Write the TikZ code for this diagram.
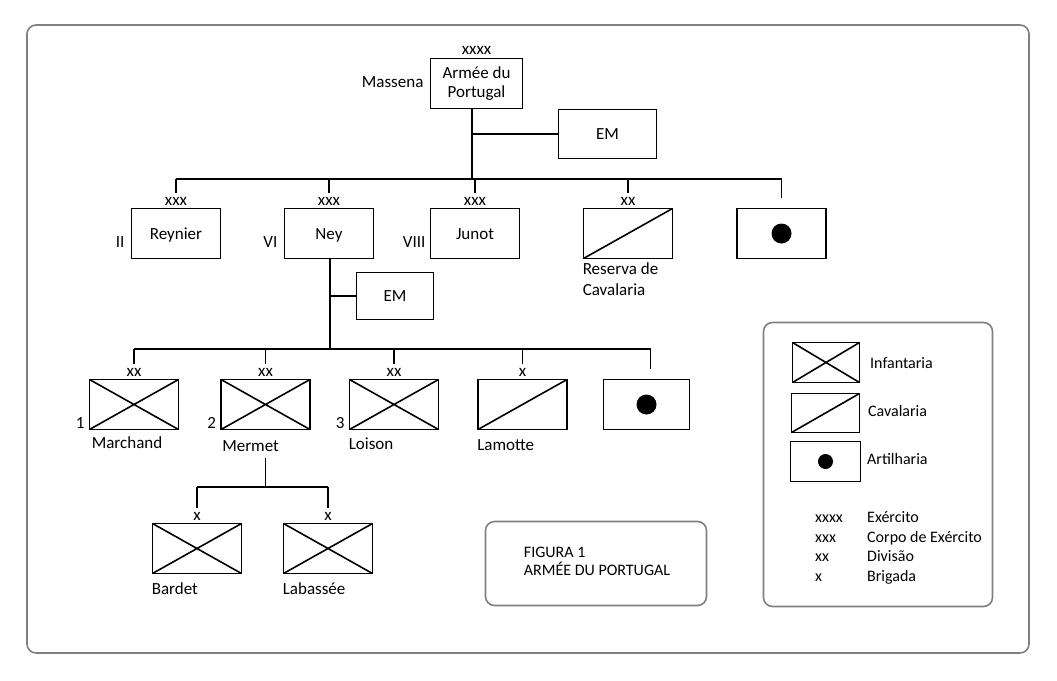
\documentclass[tikz,border=0pt]{standalone}
\usepackage{fontspec}
\setmainfont{Carlito}
\definecolor{framegray}{RGB}{128,128,128}
\tikzset{
  x=1pt, y=-1pt,
  plainbox/.style={draw, line width=1.8pt, inner sep=0pt, minimum width=89pt, minimum height=50pt},
  unitbox/.style={plainbox, text height=11pt, text depth=0pt},
  infbox/.style={unitbox, path picture={
      \draw[line width=1.6pt] (path picture bounding box.south west) -- (path picture bounding box.north east)
                              (path picture bounding box.north west) -- (path picture bounding box.south east);}},
  cavbox/.style={unitbox, path picture={
      \draw[line width=1.6pt] (path picture bounding box.south west) -- (path picture bounding box.north east);}},
  artbox/.style={unitbox, path picture={
      \fill (path picture bounding box.center) circle[radius=#1];}},
  artbox/.default=10pt,
  conn/.style={line width=1.8pt},
  echelon/.style={anchor=base, inner sep=0pt},
  sidelabel/.style={anchor=base east, inner sep=0pt},
  undername/.style={anchor=base west, inner sep=0pt},
  frame/.style={draw=framegray, line width=1.6pt, rounded corners=9pt},
  smalltext/.style={font=\fontsize{16}{18}\selectfont},
}
\begin{document}
\begin{tikzpicture}[font=\fontsize{17}{21}\selectfont]
\useasboundingbox (0,0) rectangle (1057,680);
\draw[frame] (27,25) rectangle (1029,653);

% --- Army
\node[plainbox, minimum width=92pt, align=center, font=\fontsize{17}{19}\selectfont] (army) at (476.5,83.5) {Armée du\\Portugal};
\node[echelon] (armyx) at ([yshift=3pt]army.north) {xxxx};
\node[sidelabel] (massena) at ([xshift=-6pt,yshift=-4pt]army.west) {Massena};
\node[unitbox, minimum width=98pt, minimum height=49pt] (em1) at (607.5,134) {EM};
\coordinate (trunk1) at (472,179);
\coordinate (emj1) at (472,134);
\draw[conn] (army.south -| trunk1) -- (trunk1);
\draw[conn] (emj1) -- (em1.west);

% --- Corps level
\node[unitbox] (reynier) at (176,233.5) {Reynier};
\node[unitbox] (ney) at (329,233.5) {Ney};
\node[unitbox] (junot) at (475,233.5) {Junot};
\node[cavbox] (reserva) at (628,233.5) {};
\node[artbox] (art1) at (781.5,233.5) {};
\foreach \n/\t in {reynier/xxx, ney/xxx, junot/xxx, reserva/xx}{
  \node[echelon] (\n-ech) at ([yshift=2pt]\n.north) {\t};
}
\coordinate (bus1L) at (reynier.north |- trunk1);
\coordinate (bus1R) at (art1.north |- trunk1);
\draw[conn] (bus1L) -- (bus1R);
\foreach \n in {reynier, ney, junot, reserva}{
  \draw[conn] (\n-ech.north |- trunk1) -- ([yshift=4pt]\n-ech.north);
}
\draw[conn] (bus1R) -- ([yshift=10pt]art1.north);
\node[sidelabel] (iil) at ([xshift=-6pt,yshift=12pt]reynier.south west) {II};
\node[sidelabel] (vil) at ([xshift=-6pt,yshift=12pt]ney.south west) {VI};
\node[sidelabel] (viiil) at ([xshift=-4pt,yshift=12pt]junot.south west) {VIII};
\node[undername, align=left, anchor=north west] (reservan) at ([yshift=-3pt]reserva.south west) {Reserva de\\Cavalaria};

% --- VI Corps
\node[unitbox, minimum width=77pt, minimum height=47pt] (em2) at (395,296) {EM};
\coordinate (trunk2) at (330,349);
\coordinate (emj2) at (330,296);
\draw[conn] (ney.south -| trunk2) -- (trunk2);
\draw[conn] (emj2) -- (em2.west);

\node[infbox] (marchand) at (134,404.5) {};
\node[infbox] (mermet) at (265.5,404.5) {};
\node[infbox] (loison) at (394,404.5) {};
\node[cavbox] (lamotte) at (522.5,404.5) {};
\node[artbox, minimum width=86pt] (art2) at (646.5,404.5) {};
\foreach \n/\t in {marchand/xx, mermet/xx, loison/xx, lamotte/x}{
  \node[echelon] (\n-ech) at ([yshift=2pt]\n.north) {\t};
}
\coordinate (bus2L) at (marchand.north |- trunk2);
\coordinate (bus2R) at ([xshift=4pt]art2.north |- trunk2);
\draw[conn] (bus2L) -- (bus2R);
\foreach \n in {marchand, mermet, loison, lamotte}{
  \draw[conn] (\n-ech.north |- trunk2) -- ([yshift=4pt]\n-ech.north);
}
\draw[conn] (bus2R) -- ([xshift=4pt,yshift=10pt]art2.north);
\node[sidelabel] (n1) at ([xshift=-4pt,yshift=2pt]marchand.south west) {1};
\node[sidelabel] (n2) at ([xshift=-4pt,yshift=2pt]mermet.south west) {2};
\node[sidelabel] (n3) at ([xshift=-4pt,yshift=2pt]loison.south west) {3};
\node[undername] (marchandn) at ([xshift=3pt,yshift=-18pt]marchand.south west) {Marchand};
\node[undername] (mermetn) at ([xshift=2pt,yshift=-21pt]mermet.south west) {Mermet};
\node[undername] (loisonn) at ([xshift=0pt,yshift=-19pt]loison.south west) {Loison};
\node[undername] (lamotten) at ([xshift=0pt,yshift=-20pt]lamotte.south west) {Lamotte};

% --- Mermet's brigades
\node[infbox] (bardet) at (197,548.5) {};
\node[infbox] (labassee) at (328,548.5) {};
\foreach \n in {bardet, labassee}{
  \node[echelon] (\n-ech) at ([yshift=2pt]\n.north) {x};
}
\coordinate (mtop) at (265.5,458);
\coordinate (trunk3) at (265.5,487);
\draw[conn] (mtop) -- (trunk3);
\draw[conn] (bardet-ech.north |- trunk3) -- (labassee-ech.north |- trunk3);
\foreach \n in {bardet, labassee}{
  \draw[conn] (\n-ech.north |- trunk3) -- ([yshift=4pt]\n-ech.north);
}
\node[undername] (bardetn) at ([yshift=-20pt]bardet.south west) {Bardet};
\node[undername] (labasseen) at ([yshift=-20pt]labassee.south west) {Labassée};

% --- Caption
\node[frame, minimum width=221pt, minimum height=84pt, inner sep=0pt] (caption) at (596,563.5) {};
\node[align=left, smalltext] (captiontext) at (597,561) {FIGURA 1\\ARMÉE DU PORTUGAL};

% --- Legend
\node[frame, minimum width=229pt, minimum height=284pt, inner sep=0pt] (legend) at (878,464.5) {};
\node[infbox, minimum width=67pt, minimum height=40pt] (linf) at (826,362.5) {};
\node[cavbox, minimum width=68pt, minimum height=39pt] (lcav) at (825.5,413) {};
\node[artbox=7.5pt, minimum width=70pt, minimum height=40pt] (lart) at (825.5,461.5) {};
\node[anchor=west, inner sep=0pt, smalltext] (linft) at (870,363) {Infantaria};
\node[anchor=west, inner sep=0pt, smalltext] (lcavt) at (868,411) {Cavalaria};
\node[anchor=west, inner sep=0pt, smalltext] (lartt) at (867,459) {Artilharia};
\foreach \i/\s/\t/\y in {1/xxxx/Exército/522, 2/xxx/Corpo de Exército/542, 3/xx/Divisão/561, 4/x/Brigada/581}{
  \node[anchor=base west, inner sep=0pt, smalltext] (lk\i) at (815,\y) {\s};
  \node[anchor=base west, inner sep=0pt, smalltext] (lv\i) at (867,\y) {\t};
}
\end{tikzpicture}
\end{document}
